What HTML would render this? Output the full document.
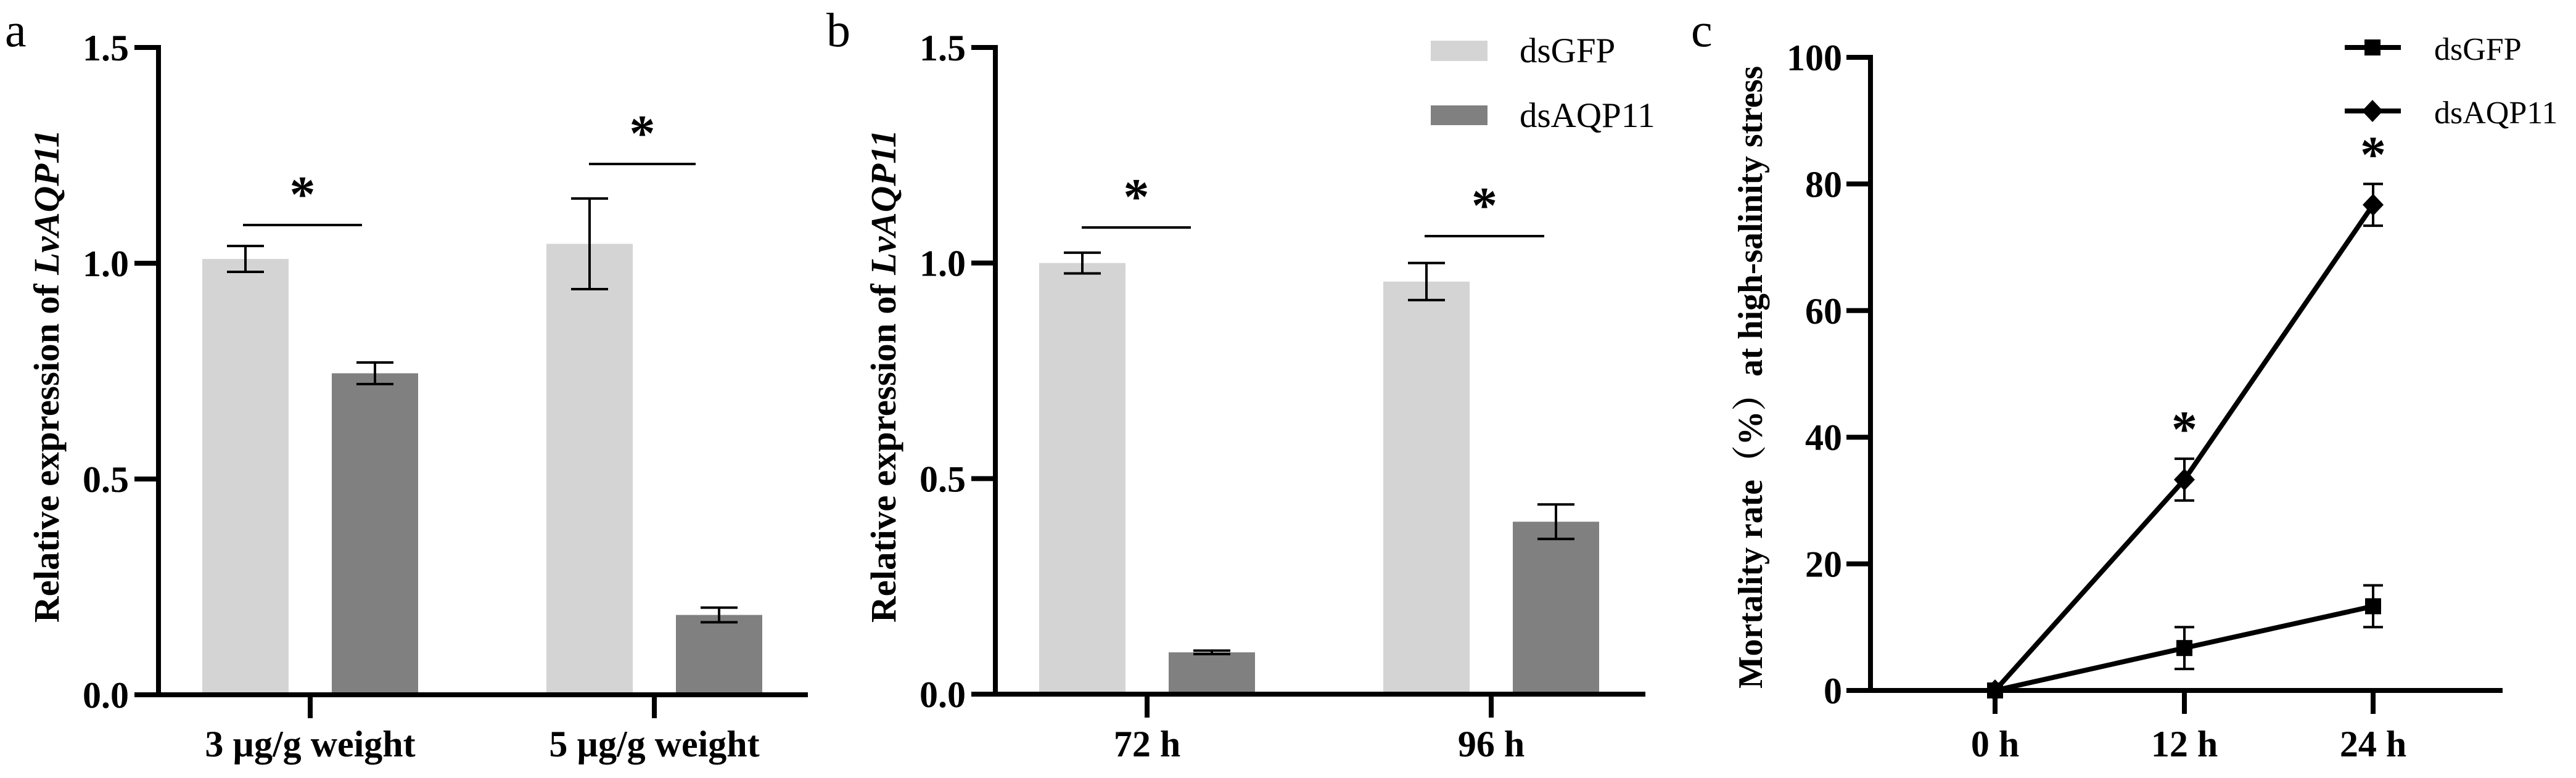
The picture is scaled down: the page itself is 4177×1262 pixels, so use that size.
<!DOCTYPE html>
<html><head><meta charset="utf-8"><style>
html,body{margin:0;padding:0;background:#fff;}
svg{display:block;}
text{font-family:"Liberation Serif","Noto Serif CJK SC",serif;}
</style></head><body>
<svg id="fig" width="4177" height="1262" viewBox="0 0 4177 1262" xmlns="http://www.w3.org/2000/svg"></svg>
<script>
// Panel a data
const aCategories = ["3 µg/g weight", "5 µg/g weight"];
const aGFP = [1.01, 1.045];
const aGFPerr = [0.03, 0.105];
const aAQP = [0.745, 0.185];
const aAQPerr = [0.025, 0.017];
// Panel b data
const bCategories = ["72 h", "96 h"];
const bGFP = [1.0, 0.957];
const bGFPerr = [0.024, 0.043];
const bAQP = [0.097, 0.40];
const bAQPerr = [0.004, 0.04];
const barTicks = ["0.0", "0.5", "1.0", "1.5"];
const barTickVals = [0, 0.5, 1.0, 1.5];
// Panel c data
const cCategories = ["0 h", "12 h", "24 h"];
const cGFP = [0, 6.7, 13.3];
const cGFPerr = [0, 3.3, 3.3];
const cAQP = [0, 33.3, 76.7];
const cAQPerr = [0, 3.3, 3.3];
const cTicks = ["0", "20", "40", "60", "80", "100"];
const cTickVals = [0, 20, 40, 60, 80, 100];

const NS = "http://www.w3.org/2000/svg";
const svg = document.getElementById("fig");
function mk(tag, attrs, parent, txt) {
  const e = document.createElementNS(NS, tag);
  for (const k in attrs) e.setAttribute(k, attrs[k]);
  if (txt !== undefined) e.textContent = txt;
  (parent || svg).appendChild(e);
  return e;
}
const LIGHT = "#d4d4d4", DARK = "#808080";

function barPanel(o) {
  const g = mk("g", {});
  
  
  const y = v => o.y0 - (v / 1.5) * (o.y0 - o.y15);
  o.cats.forEach((c, i) => {
    const cx = o.catX[i];
    const items = [[o.gfp, o.gfpErr, LIGHT, -1, "dsgfp"], [o.aqp, o.aqpErr, DARK, 1, "dsaqp11"]];
    items.forEach(([vals, errs, col, side, nm]) => {
      const bx = cx + side * o.off - o.bw / 2;
      const b = mk("rect", {x: bx, y: y(vals[i]), width: o.bw, height: o.y0 - y(vals[i]), fill: col}, g);
      
      
      const ex = bx + o.bw / 2 - 30;
      const eg = mk("g", {stroke: "#000", "stroke-width": 4}, g);
      
      
      mk("line", {x1: ex + 30, x2: ex + 30, y1: y(vals[i] + errs[i]), y2: y(vals[i] - errs[i])}, eg);
      mk("line", {x1: ex, x2: ex + 60, y1: y(vals[i] + errs[i]), y2: y(vals[i] + errs[i])}, eg);
      mk("line", {x1: ex, x2: ex + 60, y1: y(vals[i] - errs[i]), y2: y(vals[i] - errs[i])}, eg);
    });
    const sg = mk("g", {}, g);
    
    
    mk("line", {x1: o.sig[i][0], x2: o.sig[i][1], y1: o.sig[i][2], y2: o.sig[i][2], stroke: "#000", "stroke-width": 4}, sg);
    mk("text", {x: (o.sig[i][0] + o.sig[i][1]) / 2, y: o.sig[i][2] - 22, "text-anchor": "middle", "font-size": 84, "font-weight": "bold"}, sg, "*");
    mk("line", {x1: cx, x2: cx, y1: o.y0, y2: o.y0 + 38, stroke: "#000", "stroke-width": 8}, g);
    const t = mk("text", {x: cx, y: 1227, "text-anchor": "middle", "font-size": 60, "font-weight": "bold"}, g, c);
    
    
  });
  const ax = mk("path", {d: `M${o.ax - 39} ${o.y15} H${o.ax} V${o.y0} M${o.ax - 39} ${o.y0} H${o.xEnd}`, stroke: "#000", "stroke-width": 8, fill: "none"}, g);
  
  
  barTickVals.forEach((v, i) => {
    mk("line", {x1: o.ax - 39, x2: o.ax, y1: y(v), y2: y(v), stroke: "#000", "stroke-width": 8}, g);
    const t = mk("text", {x: o.ax - 48, y: y(v) + 21, "text-anchor": "end", "font-size": 60, "font-weight": "bold"}, g, barTicks[i]);
    
    
  });
  const yl = mk("text", {transform: `translate(${o.ylx},610) rotate(-90)`, "text-anchor": "middle", "font-size": 58, "font-weight": "bold", textLength: 800, lengthAdjust: "spacingAndGlyphs"}, g);
  
  
  mk("tspan", {}, yl, "Relative expression of ");
  mk("tspan", {"font-style": "italic"}, yl, "LvAQP11");
}

barPanel({name: "panel-a", cats: aCategories, gfp: aGFP, gfpErr: aGFPerr, aqp: aAQP, aqpErr: aAQPerr,
  y0: 1127, y15: 77, ax: 257, xEnd: 1310, catX: [503, 1061], off: 105, bw: 140, ylx: 95,
  sig: [[394, 587, 365], [955, 1128, 266]]});
barPanel({name: "panel-b", cats: bCategories, gfp: bGFP, gfpErr: bGFPerr, aqp: bAQP, aqpErr: bAQPerr,
  y0: 1126, y15: 77, ax: 1614, xEnd: 2668, catX: [1860, 2418], off: 105, bw: 140, ylx: 1452,
  sig: [[1754, 1931, 369], [2310, 2504, 383]]});

[["a", 8, 75], ["b", 1340, 75], ["c", 2742, 75]].forEach(([l, x, yy]) => {
  const t = mk("text", {x: x, y: yy, "font-size": 78}, svg, l);
  
  
});

const lb = mk("g", {});


mk("rect", {x: 2320, y: 66, width: 92, height: 33, fill: LIGHT}, lb);
mk("text", {x: 2464, y: 101, "font-size": 57}, lb, "dsGFP");
mk("rect", {x: 2320, y: 171, width: 92, height: 32, fill: DARK}, lb);
mk("text", {x: 2464, y: 206, "font-size": 57}, lb, "dsAQP11");

(function () {
  const g = mk("g", {});
  
  
  const y0 = 1120, y100 = 93, ax = 3033, xEnd = 4058;
  const y = v => y0 - v / 100 * (y0 - y100);
  const catX = [3235, 3542, 3848];
  mk("path", {d: `M${ax - 39} ${y100} H${ax} V${y0} M${ax - 39} ${y0} H${xEnd}`, stroke: "#000", "stroke-width": 8, fill: "none"}, g);
  cTickVals.forEach((v, i) => {
    mk("line", {x1: ax - 39, x2: ax, y1: y(v), y2: y(v), stroke: "#000", "stroke-width": 8}, g);
    const t = mk("text", {x: ax - 46, y: y(v) + 21, "text-anchor": "end", "font-size": 60, "font-weight": "bold"}, g, cTicks[i]);
    
    
  });
  cCategories.forEach((c, i) => {
    mk("line", {x1: catX[i], x2: catX[i], y1: y0, y2: y0 + 38, stroke: "#000", "stroke-width": 8}, g);
    const t = mk("text", {x: catX[i], y: 1227, "text-anchor": "middle", "font-size": 60, "font-weight": "bold"}, g, c);
    
    
  });
  function series(vals, errs, marker, nm) {
    const sg = mk("g", {}, g);
    
    
    mk("polyline", {points: vals.map((v, i) => catX[i] + "," + y(v)).join(" "), stroke: "#000", "stroke-width": 8, fill: "none"}, sg);
    vals.forEach((v, i) => {
      if (errs[i] > 0) {
        const e = mk("g", {stroke: "#000", "stroke-width": 4}, sg);
        mk("line", {x1: catX[i], x2: catX[i], y1: y(v + errs[i]), y2: y(v - errs[i])}, e);
        mk("line", {x1: catX[i] - 16, x2: catX[i] + 16, y1: y(v + errs[i]), y2: y(v + errs[i])}, e);
        mk("line", {x1: catX[i] - 16, x2: catX[i] + 16, y1: y(v - errs[i]), y2: y(v - errs[i])}, e);
      }
      marker(catX[i], y(v), sg);
    });
  }
  const sq = (x, yy, p) => mk("rect", {x: x - 13, y: yy - 13, width: 26, height: 26, fill: "#000"}, p);
  const di = (x, yy, p) => mk("path", {d: `M${x} ${yy - 18} L${x + 17} ${yy} L${x} ${yy + 18} L${x - 17} ${yy} Z`, fill: "#000"}, p);
  series(cGFP, cGFPerr, sq, "dsgfp");
  series(cAQP, cAQPerr, di, "dsaqp11");
  [1, 2].forEach(i => {
    const t = mk("text", {x: catX[i], y: y(cAQP[i] + cAQPerr[i]) - 20, "text-anchor": "middle", "font-size": 84, "font-weight": "bold"}, g, "*");
    
    
  });
  const yl = mk("text", {transform: `translate(2857,612) rotate(-90)`, "text-anchor": "middle", "font-size": 56, "font-weight": "bold", textLength: 1010, lengthAdjust: "spacingAndGlyphs"}, g, "Mortality rate（%）at high-salinity stress");
  
  
  const lg = mk("g", {}, g);
  
  
  mk("line", {x1: 3802, x2: 3893, y1: 77, y2: 77, stroke: "#000", "stroke-width": 8}, lg);
  sq(3847, 77, lg);
  mk("text", {x: 3947, y: 97, "font-size": 52}, lg, "dsGFP");
  mk("line", {x1: 3802, x2: 3893, y1: 180, y2: 180, stroke: "#000", "stroke-width": 8}, lg);
  di(3847, 180, lg);
  mk("text", {x: 3947, y: 200, "font-size": 52}, lg, "dsAQP11");
})();
</script>
</body></html>
